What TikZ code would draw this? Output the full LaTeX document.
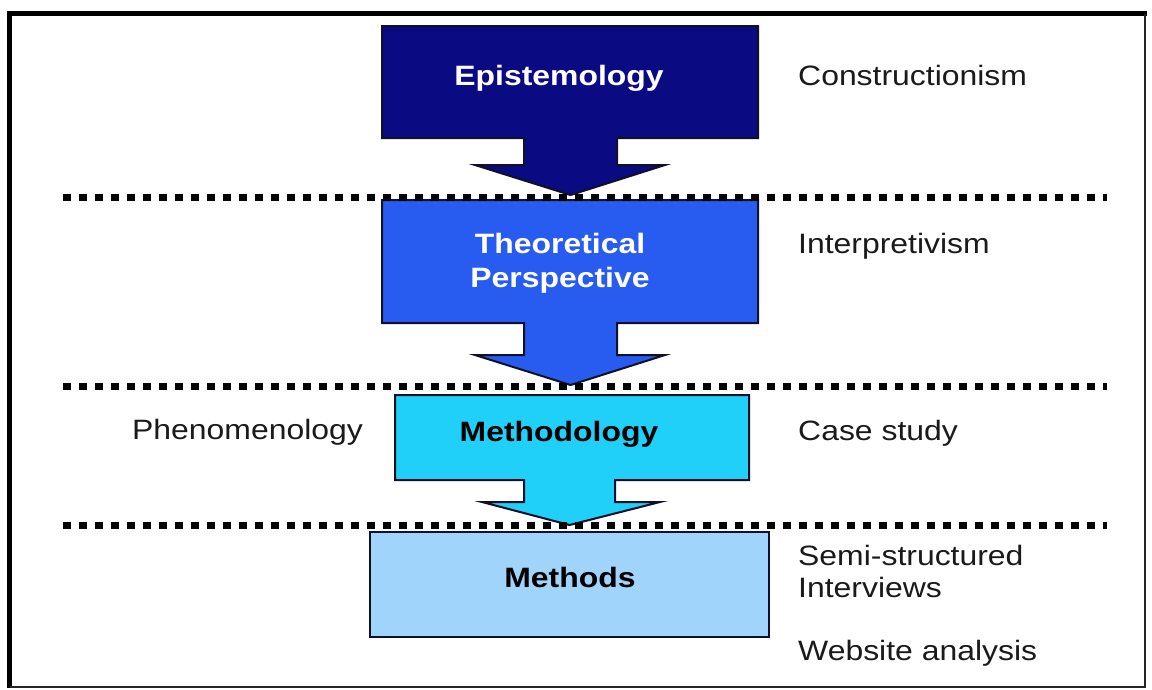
\documentclass[tikz,border=0pt]{standalone}
\usepackage{fontspec}
\setmainfont[FakeStretch=1.14]{Liberation Sans}
\definecolor{epicol}{RGB}{10,10,130}
\definecolor{theocol}{RGB}{40,92,240}
\definecolor{methcol}{RGB}{32,208,248}
\definecolor{mtdscol}{RGB}{160,212,250}
\definecolor{edgecol}{RGB}{16,16,40}
\definecolor{labcol}{RGB}{26,26,26}
\begin{document}
\begin{tikzpicture}[x=1pt,y=-1pt,
  blockarrow/.style={draw=edgecol,line width=2pt,line join=miter},
  inlabel/.style={inner sep=0pt,anchor=base,font=\fontsize{28}{32}\selectfont\bfseries},
  sidelabel/.style={inner sep=0pt,anchor=base west,text=labcol,font=\fontsize{28}{32}\selectfont},
  levelline/.style={line width=7pt,dash pattern=on 8pt off 8pt,black}]
\useasboundingbox (0,0) rectangle (1152,689);
\fill[white] (0,0) rectangle (1152,689);

% outer frame: heavy top and left edges, light right and bottom edges
\draw[line width=5pt,black] (9.5,688) -- (9.5,13.5) -- (1147,13.5);
\draw[line width=2pt,black!85] (1145,13.5) -- (1145,686.5) -- (9.5,686.5);

% level 1: epistemology
\draw[blockarrow,fill=epicol] (382,26) -- (758,26) -- (758,138) -- (617,138) -- (617,165)
  -- (665,165) -- (570.5,195) -- (475,165) -- (524,165) -- (524,138) -- (382,138) -- cycle;
\node[inlabel,text=white] (epi) at (559,85) {Epistemology};

% level 2: theoretical perspective
\draw[blockarrow,fill=theocol] (382,200) -- (758,200) -- (758,323) -- (617,323) -- (617,355)
  -- (665,355) -- (570.5,385) -- (475,355) -- (524,355) -- (524,323) -- (382,323) -- cycle;
\node[inlabel,text=white] (theo1) at (560,253) {Theoretical};
\node[inlabel,text=white] (theo2) at (560,287) {Perspective};

% level 3: methodology
\draw[blockarrow,fill=methcol] (395,395) -- (749,395) -- (749,480) -- (615,480) -- (615,502)
  -- (660,502) -- (569.5,525) -- (482,502) -- (524,502) -- (524,480) -- (395,480) -- cycle;
\node[inlabel,text=black] (meth) at (559,441) {Methodology};

% level 4: methods
\draw[blockarrow,fill=mtdscol] (370,532) rectangle (769,637);
\node[inlabel,text=black] (mtds) at (570,587) {Methods};

% dotted separators between the levels
\draw[levelline] (63,197) -- (1107,197);
\draw[levelline] (63,386) -- (1107,386);
\draw[levelline] (63,525) -- (1107,525);

% labels beside the levels
\node[sidelabel] (cons) at (798,85.5) {Constructionism};
\node[sidelabel] (interp) at (798,253) {Interpretivism};
\node[sidelabel] (phen) at (132,439) {Phenomenology};
\node[sidelabel] (case) at (798,440) {Case study};
\node[sidelabel] (semi) at (798,565) {Semi-structured};
\node[sidelabel] (intv) at (798,597) {Interviews};
\node[sidelabel] (web) at (798,660) {Website analysis};
\end{tikzpicture}
\end{document}
